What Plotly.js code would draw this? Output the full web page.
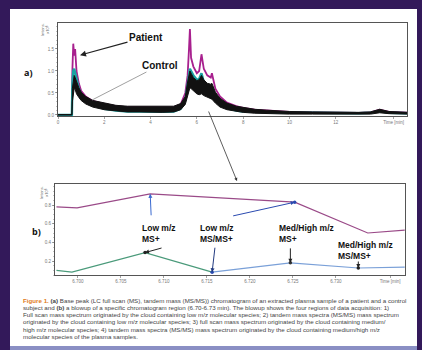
<!DOCTYPE html>
<html><head><meta charset="utf-8">
<script src="https://cdn.plot.ly/plotly-3.0.1.min.js"></script>
<style>html,body{margin:0;padding:0;background:#33195a;}#chart{width:422px;height:350px;}</style>
</head><body><div id="chart"></div>
<script>
// ---- panel a: chromatogram ----
const timeMin   = [0, 0.6, 0.62, 0.66, 0.7, 0.74, 0.8, 0.9, 1.0, 1.2, 1.5, 2.0, 2.5, 3.0, 3.5, 4.0, 4.5, 5.0, 5.3, 5.5, 5.6, 5.66, 5.7, 5.75, 5.85, 6.0, 6.1, 6.2, 6.3, 6.45, 6.6, 6.65, 6.8, 7.0, 7.3, 7.7, 8.0, 8.5, 9.0, 10, 11, 12, 13, 13.5, 13.9, 14.3, 15.1];
const patient   = [0, 0, 1.0, 1.62, 1.35, 1.5, 1.0, 0.72, 0.55, 0.42, 0.32, 0.25, 0.2, 0.18, 0.18, 0.17, 0.17, 0.18, 0.24, 0.5, 0.9, 1.5, 1.95, 1.3, 1.1, 0.95, 1.0, 1.38, 1.05, 0.9, 0.85, 0.95, 0.6, 0.42, 0.28, 0.2, 0.16, 0.12, 0.1, 0.07, 0.06, 0.05, 0.05, 0.06, 0.12, 0.07, 0.05];
const control   = [0, 0, 0.7, 1.0, 1.05, 0.95, 0.78, 0.6, 0.47, 0.34, 0.24, 0.14, 0.1, 0.08, 0.08, 0.07, 0.07, 0.08, 0.14, 0.33, 0.7, 0.95, 1.05, 1.0, 0.9, 0.8, 0.82, 0.95, 0.75, 0.6, 0.55, 0.6, 0.4, 0.26, 0.16, 0.1, 0.08, 0.07, 0.06, 0.05, 0.05, 0.04, 0.04, 0.05, 0.09, 0.05, 0.04];
const bandUpper = [0.01, 0.01, 0.6, 0.85, 0.9, 0.85, 0.75, 0.62, 0.52, 0.42, 0.33, 0.27, 0.22, 0.2, 0.2, 0.19, 0.19, 0.2, 0.26, 0.42, 0.75, 0.9, 1.0, 0.95, 0.85, 0.78, 0.8, 0.9, 0.8, 0.72, 0.7, 0.72, 0.52, 0.38, 0.27, 0.2, 0.17, 0.13, 0.11, 0.08, 0.07, 0.06, 0.06, 0.07, 0.13, 0.08, 0.06];
const bandLower = [0, 0, 0.3, 0.55, 0.6, 0.58, 0.48, 0.4, 0.33, 0.25, 0.18, 0.12, 0.09, 0.07, 0.07, 0.06, 0.06, 0.07, 0.12, 0.24, 0.45, 0.6, 0.62, 0.6, 0.55, 0.48, 0.46, 0.48, 0.44, 0.4, 0.36, 0.36, 0.27, 0.18, 0.12, 0.08, 0.06, 0.04, 0.03, 0.02, 0.02, 0.02, 0.02, 0.02, 0.05, 0.03, 0.02];
const aTickVals  = [0, 2, 4, 6, 8, 10, 12, 14.5];
const aTickText  = ['0', '2', '4', '6', '8', '10', '12', 'Time [min]'];
const aYTickVals = [0, 0.5, 1.0, 1.5];
const aYTickText = ['0.0', '0.5', '1.0', '1.5'];

// ---- panel b: blow-up ----
const topX   = [6.6975, 6.6999, 6.7084, 6.7252, 6.7337, 6.7380];
const topY   = [0.78, 0.77, 0.92, 0.83, 0.50, 0.53];
const lowGX  = [6.6975, 6.6993, 6.7078, 6.7156];
const lowGY  = [0.10, 0.08, 0.29, 0.08];
const lowBX  = [6.7156, 6.7247, 6.7326, 6.7380];
const lowBY  = [0.08, 0.18, 0.125, 0.135];
const bTickVals  = [6.700, 6.705, 6.710, 6.715, 6.720, 6.725, 6.730, 6.7363];
const bTickText  = ['6.700', '6.705', '6.710', '6.715', '6.720', '6.725', '6.730', 'Time [min]'];
const bYTickVals = [0.2, 0.4, 0.6, 0.8];
const bYTickText = ['0.2', '0.4', '0.6', '0.8'];

const captionLines = [
  '<span style="color:#e07a20"><b>Figure 1.</b></span> <b>(a)</b> Base peak (LC full scan (MS), tandem mass (MS/MS)) chromatogram of an extracted plasma sample of a patient and a control',
  'subject and <b>(b)</b> a blowup of a specific chromatogram region (6.70-6.73 min). The blowup shows the four regions of data acquisition: 1)',
  'Full scan mass spectrum originated by the cloud containing low m/z molecular species; 2) tandem mass spectra (MS/MS) mass spectrum',
  'originated by the cloud containing low m/z molecular species; 3) full scan mass spectrum originated by the cloud containing medium/',
  'high m/z molecular species; 4) tandem mass spectra (MS/MS) mass spectrum originated by the cloud containing medium/high m/z',
  'molecular species of the plasma samples.'
];

const W = 422, H = 350;
const px = v => v / W, py = v => 1 - v / H;

const traces = [
  {x: timeMin, y: patient, xaxis: 'x', yaxis: 'y', mode: 'lines', line: {color: '#a8208e', width: 1.8}},
  {x: timeMin, y: control, xaxis: 'x', yaxis: 'y', mode: 'lines', line: {color: '#1aa3a3', width: 2.4}},
  {x: timeMin, y: bandLower, xaxis: 'x', yaxis: 'y', mode: 'lines', line: {color: '#111', width: 1}},
  {x: timeMin, y: bandUpper, xaxis: 'x', yaxis: 'y', mode: 'lines', fill: 'tonexty', fillcolor: '#111', line: {color: '#111', width: 1}},
  {x: topX, y: topY, xaxis: 'x2', yaxis: 'y2', mode: 'lines', line: {color: '#9a4a88', width: 1.2}},
  {x: lowGX, y: lowGY, xaxis: 'x2', yaxis: 'y2', mode: 'lines', line: {color: '#4a9a7a', width: 1.2}},
  {x: lowBX, y: lowBY, xaxis: 'x2', yaxis: 'y2', mode: 'lines', line: {color: '#7aa0d8', width: 1.2}},
  {x: [lowGX[2], lowBX[0], lowBX[1], lowBX[2], topX[3]], y: [lowGY[2], lowBY[0], lowBY[1], lowBY[2], topY[3]],
   xaxis: 'x2', yaxis: 'y2', mode: 'markers',
   marker: {size: 3.5, color: ['#222', '#2a4ab0', '#333', '#222', '#2a4ab0']}}
];

const axBase = {
  showline: true, mirror: true, linecolor: '#555', linewidth: 1,
  ticks: 'outside', ticklen: 2, tickcolor: '#666', tickwidth: 0.6,
  tickfont: {size: 4.5, color: '#777', family: 'Liberation Sans'},
  showgrid: false, zeroline: false, fixedrange: true
};

const anns = [];
const P = (x, y, text, font, extra) => Object.assign({xref: 'paper', yref: 'paper', x: px(x), y: py(y), text, showarrow: false,
  xanchor: 'center', yanchor: 'middle', font}, extra || {});
// panel labels
anns.push(P(28, 72, '<b>a)</b>', {size: 9, color: '#111'}));
anns.push(P(36, 232, '<b>b)</b>', {size: 9, color: '#111'}));
// unit labels
anns.push(P(45, 30, 'Intens.<br>x10<sup>8</sup>', {size: 4, color: '#666'}, {textangle: -90}));
anns.push(P(44, 193, 'Intens.<br>x10<sup>8</sup>', {size: 4, color: '#666'}, {textangle: -90}));
// panel a callouts
anns.push({xref: 'x', yref: 'y', x: 0.95, y: 1.36, ax: 66, ay: -18, text: '<b>Patient</b>',
  showarrow: true, arrowhead: 2, arrowsize: 1, arrowwidth: 1.2, arrowcolor: '#222', font: {size: 10, color: '#111', family: 'Liberation Sans'}});
anns.push({xref: 'x', yref: 'y', x: 1.47, y: 0.34, ax: 68, ay: -35, text: '<b>Control</b>',
  showarrow: true, arrowhead: 0, arrowwidth: 0.8, arrowcolor: '#888', font: {size: 10, color: '#111', family: 'Liberation Sans'}});
// connector from a to b
anns.push({xref: 'paper', yref: 'paper', x: px(237), y: py(181), ax: -29, ay: -71, text: '',
  showarrow: true, arrowhead: 2, arrowsize: 0.8, arrowwidth: 0.8, arrowcolor: '#333'});
// panel b labels
const labFont = {size: 8.5, color: '#111', family: 'Liberation Sans'};
anns.push(P(140, 233, '<b>Low m/z<br>MS+</b>', labFont, {xanchor: 'left', align: 'left'}));
anns.push(P(198, 233, '<b>Low m/z<br>MS/MS+</b>', labFont, {xanchor: 'left', align: 'left'}));
anns.push(P(277, 233, '<b>Med/High m/z<br>MS+</b>', labFont, {xanchor: 'left', align: 'left'}));
anns.push(P(336, 250, '<b>Med/High m/z<br>MS/MS+</b>', labFont, {xanchor: 'left', align: 'left'}));
// panel b arrows
const arr = (x, y, ax, ay, c) => ({xref: 'x2', yref: 'y2', x, y, ax, ay, text: '', showarrow: true, arrowhead: 2, arrowsize: 0.8, arrowwidth: 1, arrowcolor: c});
anns.push(arr(topX[2], topY[2], 1, 23, '#3a6ad0'));
anns.push(arr(lowGX[2], lowGY[2], 18, -5, '#222'));
anns.push(arr(lowBX[0], lowBY[0], 3, -26, '#223a80'));
anns.push(arr(topX[3], topY[3], -63, 14, '#2a4ab0'));
anns.push(arr(lowBX[1], lowBY[1], 0, -16, '#222'));
anns.push(arr(lowBX[2], lowBY[2], 0, -8, '#222'));
// caption
captionLines.forEach((t, i) => {
  anns.push(P(21, 300 + i * 7.3, t, {size: 6.2, color: '#444', family: 'Liberation Sans'}, {xanchor: 'left', align: 'left'}));
});

const layout = {
  width: W, height: H, margin: {l: 0, r: 0, t: 0, b: 0},
  paper_bgcolor: '#33195a', plot_bgcolor: '#ffffff', showlegend: false, hovermode: false,
  shapes: [
    {type: 'rect', xref: 'paper', yref: 'paper', x0: px(10), x1: px(417), y0: py(346), y1: py(9), fillcolor: '#ffffff', line: {width: 0}, layer: 'below'},
    {type: 'rect', xref: 'paper', yref: 'paper', x0: px(10), x1: px(417), y0: 0, y1: py(346), fillcolor: '#8a8fc4', line: {width: 0}, layer: 'below'}
  ],
  xaxis: Object.assign({}, axBase, {domain: [px(58), px(407)], range: [0, 15.08], anchor: 'y', tickvals: aTickVals, ticktext: aTickText}),
  yaxis: Object.assign({}, axBase, {domain: [py(116), py(23)], range: [-0.023, 2.09], anchor: 'x', tickvals: aYTickVals, ticktext: aYTickText,
    minor: {ticks: 'outside', ticklen: 1.5, dtick: 0.1, tickcolor: '#888', tickwidth: 0.5}}),
  xaxis2: Object.assign({}, axBase, {domain: [px(55), px(405)], range: [6.69733, 6.73803], anchor: 'y2', tickvals: bTickVals, ticktext: bTickText}),
  yaxis2: Object.assign({}, axBase, {domain: [py(275), py(184)], range: [0.05, 1.025], anchor: 'x2', tickvals: bYTickVals, ticktext: bYTickText,
    minor: {ticks: 'outside', ticklen: 1.5, dtick: 0.05, tickcolor: '#888', tickwidth: 0.5}}),
  annotations: anns
};

Plotly.newPlot('chart', traces, layout, {staticPlot: true, displayModeBar: false});
</script></body></html>
